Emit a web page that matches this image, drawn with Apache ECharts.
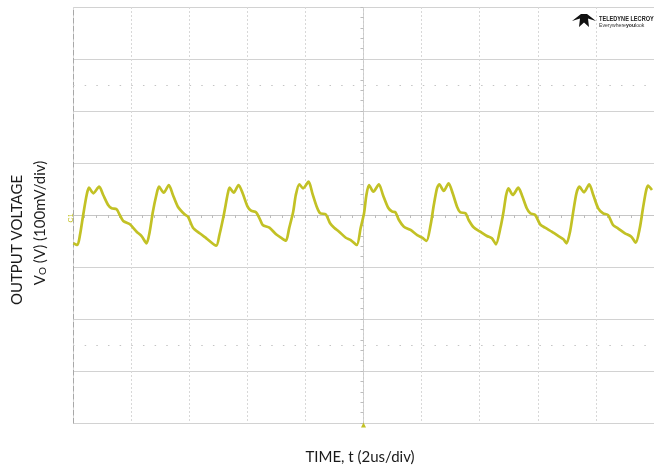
<!DOCTYPE html>
<html>
<head>
<meta charset="utf-8">
<script src="https://cdn.jsdelivr.net/npm/echarts@6/dist/echarts.min.js"></script>
<style>
html,body{margin:0;padding:0;background:#fff;}
#c{width:654px;height:470px;}
</style>
</head>
<body>
<div id="c"></div>
<script>
// Time relative to trigger (us), 2 us/div
const timeUs = [-9.99,-9.85,-9.76,-9.65,-9.53,-9.45,-9.30,-9.10,-8.96,-8.79,-8.67,-8.50,-8.39,-8.27,-8.04,-7.81,-7.64,-7.47,-7.36,-7.25,-7.13,-7.04,-6.88,-6.70,-6.56,-6.39,-6.16,-6.04,-5.87,-5.64,-5.41,-5.07,-4.96,-4.81,-4.67,-4.61,-4.47,-4.30,-4.16,-3.99,-3.87,-3.70,-3.58,-3.47,-3.24,-3.01,-2.84,-2.67,-2.56,-2.42,-2.33,-2.21,-2.08,-1.89,-1.76,-1.61,-1.49,-1.30,-1.15,-1.01,-0.84,-0.61,-0.44,-0.23,-0.10,0.02,0.10,0.19,0.34,0.53,0.67,0.85,0.99,1.10,1.22,1.39,1.62,1.85,2.02,2.17,2.31,2.42,2.53,2.61,2.76,2.93,3.07,3.22,3.33,3.51,3.62,3.79,4.02,4.25,4.42,4.56,4.71,4.82,4.91,4.99,5.14,5.33,5.45,5.62,5.74,5.91,6.08,6.25,6.48,6.71,6.88,6.99,7.11,7.22,7.33,7.43,7.59,7.77,7.91,8.08,8.25,8.42,8.59,8.76,9.00,9.22,9.37,9.51,9.62,9.72,9.79,9.93];
// Output voltage (mV), 100 mV/div
const voltMv = [-54.4,-57.7,-38.5,0,38.5,52.5,41.7,54.4,38.5,19.2,12.9,11.0,0,-11.5,-17.9,-32.1,-40.4,-54.4,-32.1,6.3,38.5,54.4,42.9,57.7,38.5,16.0,1.3,-3.3,-24.4,-35.2,-44.8,-59.0,-38.5,0,41.7,52.5,42.9,57.7,41.7,16.0,8.3,5.2,-6.3,-19.2,-24.4,-37.1,-43.7,-49.4,-25.6,6.3,38.5,59.0,51.3,64.0,41.7,16.0,3.3,1.3,-16.0,-24.4,-32.1,-43.7,-48.1,-57.7,-25.6,3.8,38.5,57.7,44.8,59.0,38.5,14.0,6.3,5.2,-9.6,-22.5,-28.8,-38.5,-43.7,-50.0,-19.2,19.2,51.3,59.0,46.2,61.0,41.7,16.0,5.2,3.3,-9.6,-23.7,-32.1,-40.4,-44.8,-56.3,-25.6,6.3,38.5,51.3,38.5,52.5,38.5,12.9,3.3,0,-17.9,-24.4,-32.1,-40.4,-46.7,-54.4,-32.1,6.3,41.7,54.4,43.7,59.0,38.5,12.9,3.3,0,-19.2,-25.6,-35.2,-41.7,-53.3,-25.6,12.9,44.8,56.3,48.1];
const cursorLevels = [250, -250];
const xTitle = 'TIME, t (2us/div)';
const yTitle1 = 'OUTPUT VOLTAGE';

const traceColor = '#c2c125';
const chart = echarts.init(document.getElementById('c'), null, {renderer: 'canvas'});
const font = 'Lato, "Open Sans", sans-serif';
const narrow = '"Liberation Sans Narrow", "Liberation Sans", sans-serif';

chart.setOption({
  animation: false,
  grid: {left: 73, top: 7, width: 583, height: 416, show: false},
  xAxis: {
    type: 'value', min: -10, max: 10, interval: 2,
    axisLine: {show: true, onZero: true, lineStyle: {color: '#c6c6c6', width: 1}},
    axisTick: {show: true, length: 3, inside: false, lineStyle: {color: '#bdbdbd'}},
    minorTick: {show: true, splitNumber: 5, length: 3, lineStyle: {color: '#bdbdbd'}},
    axisLabel: {show: false},
    splitLine: {show: true, lineStyle: {color: '#d8d8d8', type: [2, 2], width: 1}}
  },
  yAxis: [{
    type: 'value', min: -400, max: 400, interval: 100,
    axisLine: {show: true, onZero: true, lineStyle: {color: '#cacaca', type: [2, 2], width: 1}},
    axisTick: {show: true, length: 3, lineStyle: {color: '#bdbdbd'}},
    minorTick: {show: true, splitNumber: 5, length: 3, lineStyle: {color: '#bdbdbd'}},
    axisLabel: {show: false},
    splitLine: {show: true, lineStyle: {color: '#d2d2d2', width: 1}}
  }, {
    type: 'value', min: -400, max: 400, interval: 100, position: 'left',
    axisLine: {show: true, onZero: false, lineStyle: {color: '#a8a8a8', type: [5, 3], width: 1}},
    axisTick: {show: false}, axisLabel: {show: false}, splitLine: {show: false}
  }],
  series: [{
    type: 'line',
    data: timeUs.map((t, i) => [t, voltMv[i]]),
    showSymbol: false,
    smooth: 0.25,
    lineStyle: {color: traceColor, width: 2.7},
    itemStyle: {color: traceColor},
    z: 5,
    markLine: {
      silent: true, symbol: 'none', label: {show: false},
      lineStyle: {color: '#c4c4c4', type: [1.5, 10.16], width: 1},
      data: cursorLevels.map(v => ({yAxis: v}))
    },
    markPoint: {
      silent: true,
      data: [
        {coord: [0, -400], symbol: 'triangle', symbolSize: [5, 5], symbolOffset: [0, 2], itemStyle: {color: traceColor}, label: {show: false}},
        {coord: [-10, 3], symbol: 'rect', symbolSize: 0, label: {show: true, formatter: 'C1', rotate: 90, position: 'left', distance: 2, color: traceColor, fontSize: 7, fontFamily: 'Liberation Sans'}}
      ]
    }
  }],
  graphic: [
    {type: 'text', x: 17, y: 240, rotation: Math.PI / 2,
      style: {text: yTitle1, fill: '#1a1a1a', font: '15px ' + font, align: 'center', verticalAlign: 'middle'}},
    {type: 'text', x: 40, y: 223, rotation: Math.PI / 2,
      style: {text: '{a|V}{s|O}{a| (V) (100mV/div)}', align: 'center', verticalAlign: 'middle',
        rich: {a: {fill: '#1a1a1a', fontSize: 15, fontFamily: font}, s: {fill: '#1a1a1a', fontSize: 10, fontFamily: font, verticalAlign: 'bottom', padding: [6, 0, 0, 0]}}}},
    {type: 'text', x: 360, y: 457,
      style: {text: xTitle, fill: '#1a1a1a', font: '15px ' + font, align: 'center', verticalAlign: 'middle'}},
    {type: 'polygon', shape: {points: [[572,21],[581,14],[587,14],[596,21],[588,18.5],[589,27],[584,22.5],[579,27],[580,18.5]]}, style: {fill: '#111'}},
    {type: 'text', x: 599, y: 19, scaleX: 0.8,
      style: {text: 'TELEDYNE LECROY', fill: '#222', font: 'bold 7px ' + narrow, verticalAlign: 'middle'}},
    {type: 'text', x: 599, y: 25.5, scaleX: 0.85,
      style: {text: '{n|Everywhere}{b|you}{n|look}', verticalAlign: 'middle',
        rich: {n: {fill: '#333', fontSize: 6, fontFamily: narrow}, b: {fill: '#222', fontSize: 6, fontWeight: 'bold', fontFamily: narrow}}}}
  ]
});
</script>
</body>
</html>
